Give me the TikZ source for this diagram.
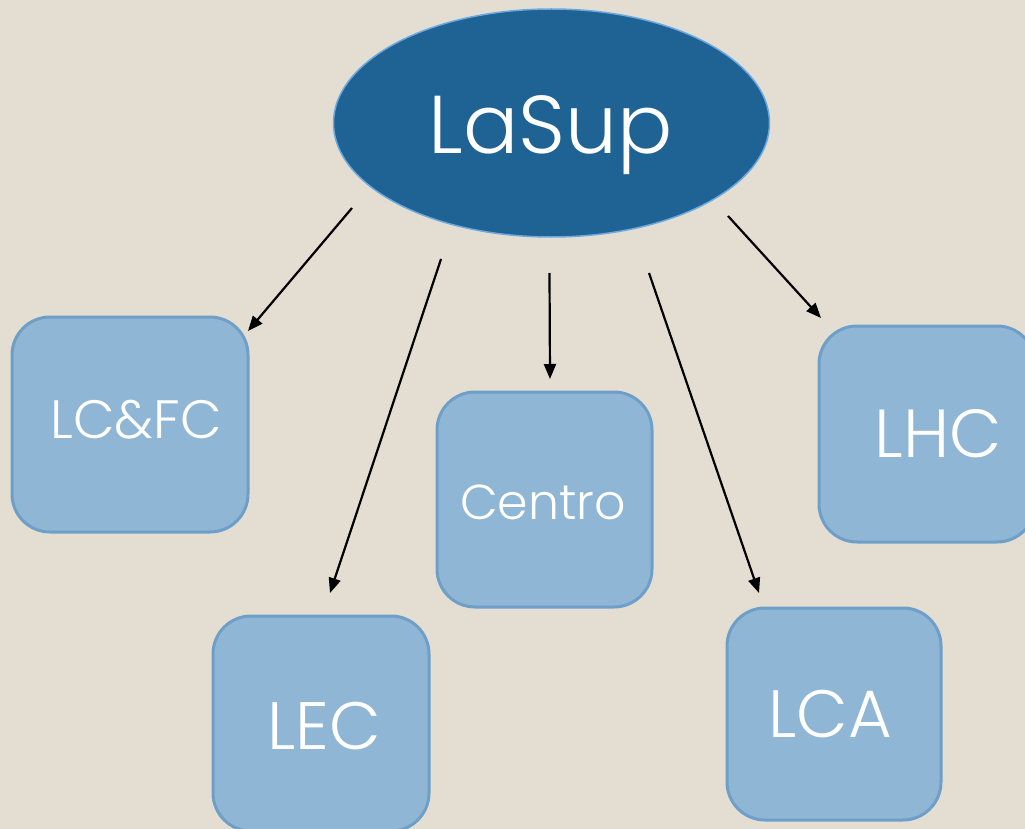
\documentclass[tikz,border=0pt]{standalone}
\usepackage{fontspec}
\IfFontExistsTF{Poppins Light}{\setmainfont{Poppins Light}}{\setmainfont{Poppins}}
\usetikzlibrary{arrows.meta,calc}
\definecolor{bg}{HTML}{E3DDD2}
\definecolor{ellfill}{HTML}{1F6294}
\definecolor{elldraw}{HTML}{6AA8DE}
\definecolor{boxfill}{HTML}{90B6D5}
\definecolor{boxdraw}{HTML}{6D9FC8}
\tikzset{
  box/.style={draw=boxdraw, fill=boxfill, line width=3pt, rounded corners=38pt, inner sep=0pt},
  lbl/.style={text=white, anchor=base, inner sep=0pt},
  conn/.style={line width=2.2pt, -{Triangle[length=15pt,width=12pt]}},
}
\begin{document}
\begin{tikzpicture}[x=1pt,y=-1pt]
\fill[bg] (0,0) rectangle (1025,829);
\useasboundingbox (0,0) rectangle (1025,829);
\clip (0,0) rectangle (1025,829);
% main ellipse
\draw[fill=ellfill, draw=elldraw, line width=1.5pt] (551.5,123) ellipse [x radius=218, y radius=114];
\node[lbl, font=\fontsize{82}{82}\selectfont] (lasup) at (550.5,154) {LaSup};
% boxes
\node[box, minimum width=236pt, minimum height=215pt] (lcfc) at (130,424.5) {};
\node[box, minimum width=216pt, minimum height=215pt] (lec) at (321,723.5) {};
\node[box, minimum width=215pt, minimum height=215pt] (centro) at (544.5,499.5) {};
\node[box, minimum width=214pt, minimum height=212pt] (lca) at (834,714) {};
\node[box, minimum width=216pt, minimum height=216pt] (lhc) at (927,434) {};
% labels
\node[lbl, font=\fontsize{54}{54}\selectfont] (lcfc-t) at (136,438) {LC\&FC};
\node[lbl, font=\fontsize{67}{67}\selectfont] (lec-t) at (324,749) {LEC};
\node[lbl, font=\fontsize{49}{49}\selectfont] (centro-t) at (543,519) {Centro};
\node[lbl, font=\fontsize{67}{67}\selectfont] (lca-t) at (830,737) {LCA};
\node[lbl, font=\fontsize{68}{68}\selectfont] (lhc-t) at (938,457) {LHC};
% connector end points
\coordinate (s1) at (352,208); \coordinate (e1) at (248,331);
\coordinate (s2) at (441,259); \coordinate (e2) at (330,593);
\coordinate (s3) at (549.5,273); \coordinate (e3) at (550,379);
\coordinate (s4) at (649,273); \coordinate (e4) at (759,593);
\coordinate (s5) at (728,216); \coordinate (e5) at (821,318);
\draw[conn] (s1) -- (e1);
\draw[conn] (s2) -- (e2);
\draw[conn] (s3) -- (e3);
\draw[conn] (s4) -- (e4);
\draw[conn] (s5) -- (e5);
\end{tikzpicture}
\end{document}
